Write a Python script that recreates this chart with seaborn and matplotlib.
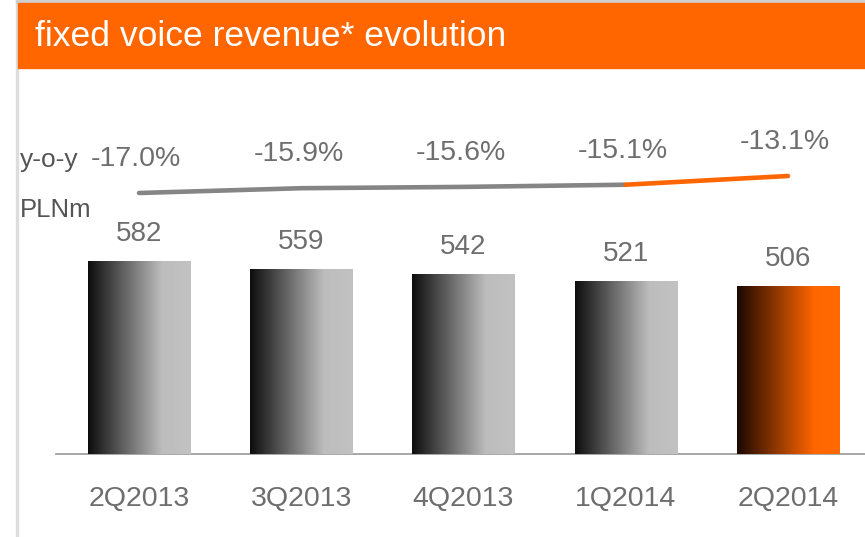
import numpy as np
import pandas as pd
import matplotlib
matplotlib.use("Agg")
import matplotlib.pyplot as plt
from matplotlib.colors import LinearSegmentedColormap
from matplotlib.patches import Rectangle
import seaborn as sns

quarters = ["2Q2013", "3Q2013", "4Q2013", "1Q2014", "2Q2014"]
revenue = [582, 559, 542, 521, 506]
yoy = [-17.0, -15.9, -15.6, -15.1, -13.1]
yoy_labels = ["-17.0%", "-15.9%", "-15.6%", "-15.1%", "-13.1%"]
title = "fixed voice revenue* evolution"

ORANGE = "#ff6600"
TXT = "#6e6e6e"

sns.set_theme(style="white")
plt.rcParams["font.family"] = ["Liberation Sans", "DejaVu Sans"]

W, H = 865, 537
fig = plt.figure(figsize=(W / 100, H / 100), dpi=100)

# frame / header
fig.patches.append(Rectangle((16 / W, 0), 1.5 / W, 1, transform=fig.transFigure,
                             color="#dddddd", zorder=0))
fig.patches.append(Rectangle((16 / W, (H - 3) / H), 1 - 16 / W, 3 / H,
                             transform=fig.transFigure, color="#cfcfcf", zorder=0))
fig.patches.append(Rectangle((18 / W, (H - 68) / H), 1 - 18 / W, 65 / H,
                             transform=fig.transFigure, color=ORANGE, zorder=1))
fig.text(35 / W, (H - 36) / H, title, color="white", fontsize=25.5,
         va="center", ha="left")

# axes
ax_bottom = 454
ax_top = 68
ax = fig.add_axes([56 / W, (H - ax_bottom) / H, 809 / W, (ax_bottom - ax_top) / H])
df = pd.DataFrame({"quarter": quarters, "revenue": revenue})
sns.barplot(data=df, x="quarter", y="revenue", ax=ax, width=0.63,
            color="#bbbbbb", saturation=1)

px_per_unit = 193 / 582
ymax = (ax_bottom - ax_top) / px_per_unit
spacing = 162.25
xlim = (-(139 - 56) / spacing, (865 - 139) / spacing)

gray_cmap = LinearSegmentedColormap.from_list(
    "g", [(0, "#0d0d0d"), (0.72, "#bdbdbd"), (1, "#c2c2c2")])
orange_cmap = LinearSegmentedColormap.from_list(
    "o", [(0, "#1c0800"), (0.75, "#ff6600"), (1, "#ff6a00")])
grad = np.linspace(0, 1, 256).reshape(1, -1)
for i, p in enumerate(ax.patches):
    x0, w, h = p.get_x(), p.get_width(), p.get_height()
    cmap = orange_cmap if i == len(ax.patches) - 1 else gray_cmap
    im = ax.imshow(grad, extent=[x0, x0 + w, 0, h], aspect="auto", cmap=cmap,
                   zorder=3, interpolation="bilinear")
    im.set_clip_path(p)
    p.set_facecolor("none")
    p.set_edgecolor("none")
    ax.annotate(str(revenue[i]), (x0 + w / 2, h), xytext=(0, 27 * 0.72),
                textcoords="offset points", ha="center", va="center",
                fontsize=20, color=TXT)

ax.set_xlim(*xlim)
ax.set_ylim(0, ymax)
ax.set_xlabel("")
ax.set_ylabel("")
ax.set_yticks([])
ax.tick_params(axis="x", length=0, pad=23, labelsize=20.5, labelcolor=TXT)
for s in ["top", "right", "left"]:
    ax.spines[s].set_visible(False)
ax.spines["bottom"].set_color("#a0a0a0")
ax.spines["bottom"].set_linewidth(1.3)
ax.patch.set_alpha(0)

# y-o-y line on twin axis
ax2 = ax.twinx()
ppp = 4.36
ymin2 = -17.0 - (ax_bottom - 193) / ppp
ymax2 = ymin2 + (ax_bottom - ax_top) / ppp
ax2.set_ylim(ymin2, ymax2)
xpos = list(range(len(quarters)))
sns.lineplot(x=xpos[:4], y=yoy[:4], ax=ax2, color="#858585", linewidth=3.3,
             solid_capstyle="round", zorder=4)
sns.lineplot(x=xpos[3:], y=yoy[3:], ax=ax2, color=ORANGE, linewidth=3.3,
             solid_capstyle="round", zorder=5)
for i, lab in enumerate(yoy_labels):
    ax2.annotate(lab, (xpos[i], yoy[i]), xytext=(-2, 34 * 0.72),
                 textcoords="offset points", ha="center", va="center",
                 fontsize=20.5, color=TXT)
ax2.set_xlim(*xlim)
ax2.set_yticks([])
ax2.set_ylabel("")
for s in ax2.spines.values():
    s.set_visible(False)

fig.text(20 / W, (H - 160) / H, "y-o-y", fontsize=19, color="#555555",
         va="center", ha="left")
fig.text(20 / W, (H - 210) / H, "PLNm", fontsize=18.5, color="#555555",
         va="center", ha="left")

fig.savefig("out.png", dpi=100)
